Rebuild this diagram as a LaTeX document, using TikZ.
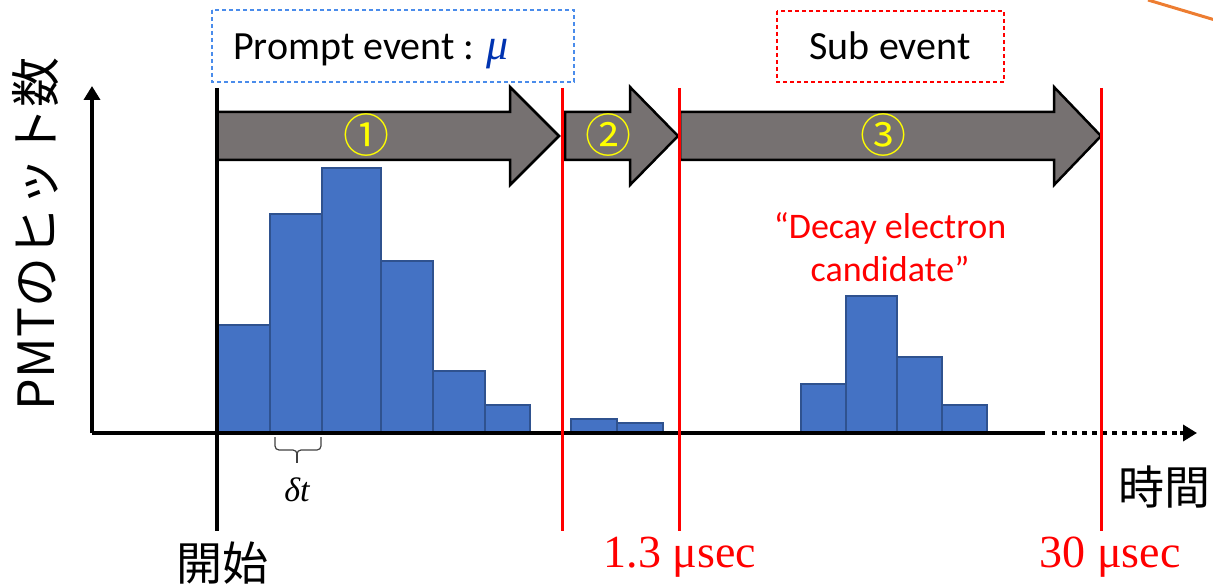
\documentclass[tikz,border=0pt]{standalone}
\usepackage{fontspec}
\setmainfont{Carlito}
\newfontfamily\jpfont{Noto Sans CJK JP}
\newfontfamily\numfont{Liberation Serif}
\usetikzlibrary{arrows.meta}
\definecolor{bargray}{HTML}{767171}
\definecolor{barblue}{HTML}{4472C4}
\definecolor{baredge}{HTML}{2F528F}
\definecolor{boxblue}{HTML}{4A8CEB}
\definecolor{mublue}{HTML}{0033B0}
\definecolor{cyellow}{HTML}{FFFF00}
\definecolor{orangeline}{HTML}{ED7D31}
\tikzset{
  axis/.style={line width=4pt, black},
  marker/.style={line width=3pt, red},
  phase/.style={fill=bargray, draw=black, line width=2.5pt, line join=miter},
  bin/.style={fill=barblue, draw=baredge, line width=1.6pt},
  phasenum/.style={font=\jpfont\fontsize{46}{46}\selectfont, text=cyellow, inner sep=0pt},
  tag/.style={inner sep=0pt, font=\fontsize{40}{40}\selectfont},
  timelabel/.style={text=red, inner sep=0pt, font=\numfont\fontsize{46}{46}\selectfont},
  jplabel/.style={inner sep=0pt, font=\jpfont\fontsize{46}{46}\selectfont}
}
\begin{document}
\begin{tikzpicture}[x=1pt, y=-1pt]
\useasboundingbox (0,0) rectangle (1213,585);

% corner stroke
\draw[orangeline, line width=3pt] (1148,0) -- (1215,20);

% event boxes
\draw[boxblue, line width=1.5pt, dash pattern=on 4pt off 3pt] (212,10) rectangle (574,82);
\node[tag, anchor=base west] (prompt) at (233,60) {Prompt event : \textcolor{mublue}{\numfont\itshape\fontsize{44}{44}\selectfont μ}};
\draw[red, line width=1.5pt, dash pattern=on 4pt off 3pt] (777,11) rectangle (1004,82);
\node[tag, anchor=base] (sub) at (890,60) {Sub event};

% histogram bins
\foreach \a/\b/\t in {217/270/325, 270/322/214, 322/381/168, 381/433/261, 433/485/371, 485/530/405,
                      571/617/419, 617/663/423,
                      801/846/384, 846/897/296, 897/942/357, 942/987/405}
  \draw[bin] (\a,433) rectangle (\b,\t);

% time window arrows
\draw[phase] (217,112) -- (510,112) -- (510,87) -- (559,136) -- (510,185) -- (510,160) -- (217,160) -- cycle;
\draw[phase] (565,112) -- (630,112) -- (630,87) -- (678,136) -- (630,185) -- (630,160) -- (565,160) -- cycle;
\draw[phase] (680,112) -- (1054,112) -- (1054,87) -- (1101,136) -- (1054,185) -- (1054,160) -- (680,160) -- cycle;
\node[phasenum] (n1) at (366,135) {①};
\node[phasenum] (n2) at (608,135) {②};
\node[phasenum] (n3) at (883,135) {③};

% axes
\coordinate (origin) at (92,433);
\coordinate (ytip) at (92,86);
\coordinate (xsolid) at (1045,433);
\coordinate (xtip) at (1197,433);
\draw[axis, -{Triangle[length=14pt,width=16pt]}] (origin) -- (ytip);
\draw[axis] (origin) -- (xsolid);
\draw[axis, dash pattern=on 5pt off 5pt] (1052,433) -- (1180,433);
\draw[black, line width=4pt, -{Triangle[length=14pt,width=16pt]}] (1180,433) -- (xtip);

% start line and time markers
\draw[axis] (217,88) -- (217,531);
\draw[marker] (562,88) -- (562,531);
\draw[marker] (679,88) -- (679,531);
\draw[marker] (1101,88) -- (1101,531);

% bin width bracket
\draw[black!75, line width=1.2pt]
  (275,437) -- (275,446) to[out=-90,in=180] (279,450) -- (293,450) to[out=0,in=90] (297,454)
  to[out=90,in=180] (301,450) -- (317,450) to[out=0,in=-90] (321,446) -- (321,437);
\draw[black!75, line width=1.2pt] (297,454) -- (297,463);
\node[inner sep=0pt, font=\numfont\itshape\fontsize{34}{34}\selectfont] (dt) at (297,490) {δt};

% labels
\node[text=red, align=center, inner sep=0pt, font=\fontsize{36}{43}\selectfont] (decay) at (890,247) {“Decay electron\\candidate”};
\node[jplabel] (start) at (222,563) {開始};
\node[jplabel] (time) at (1164,487) {時間};
\node[jplabel, rotate=90, font=\jpfont\fontsize{50}{50}\selectfont] (ylabel) at (36,234) {PMTのヒット数};
\node[timelabel] (t1) at (680,557) {1.3 μsec};
\node[timelabel] (t2) at (1110,557) {30 μsec};
\end{tikzpicture}
\end{document}
